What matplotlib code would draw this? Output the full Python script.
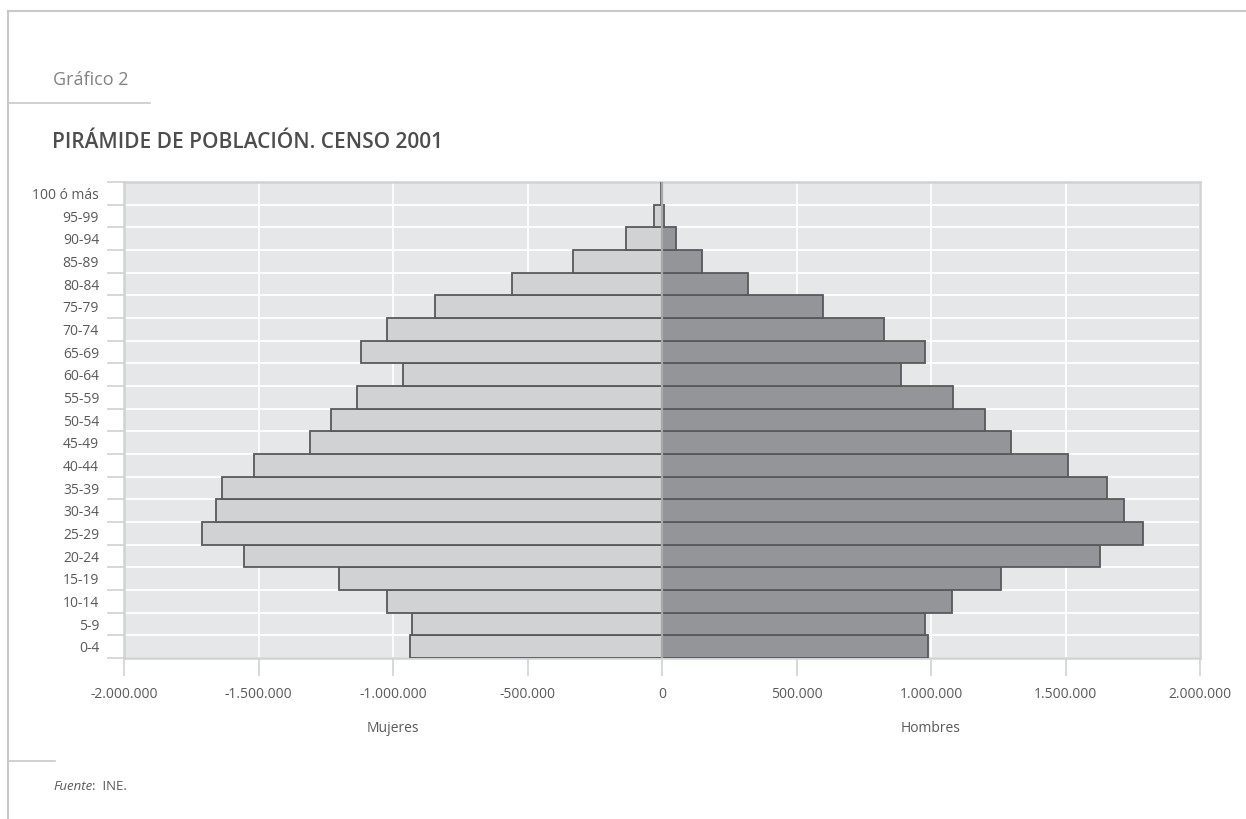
import matplotlib
matplotlib.use('Agg')
import matplotlib.pyplot as plt
from matplotlib.ticker import FuncFormatter, FixedLocator
from matplotlib.lines import Line2D

plt.rcParams['font.family'] = ['Open Sans', 'DejaVu Sans']

# Datos: grupos de edad (de menor a mayor) y población por sexo
grupos = ['0-4', '5-9', '10-14', '15-19', '20-24', '25-29', '30-34', '35-39',
          '40-44', '45-49', '50-54', '55-59', '60-64', '65-69', '70-74',
          '75-79', '80-84', '85-89', '90-94', '95-99', '100 ó más']
mujeres = [937000, 930000, 1021000, 1200000, 1555000, 1710000, 1658000, 1635000,
           1516000, 1310000, 1230000, 1133000, 963000, 1118000, 1022000,
           843000, 558000, 329000, 134000, 31000, 4000]
hombres = [988000, 978000, 1078000, 1261000, 1629000, 1787000, 1717000, 1653000,
           1510000, 1299000, 1202000, 1081000, 887000, 977000, 826000,
           600000, 321000, 150000, 52000, 9000, 1000]
ticks_x = [-2000000, -1500000, -1000000, -500000, 0, 500000, 1000000, 1500000, 2000000]

gris_texto = '#58595b'
gris_linea = '#d1d2d4'

fig = plt.figure(figsize=(12.46, 8.19), dpi=100)
ax = fig.add_axes([124 / 1246, 1 - 658 / 819, (1200 - 124) / 1246, (658 - 182) / 819])
ax.set_facecolor('#e6e7e9')

# Barras: mujeres a la izquierda (negativo), hombres a la derecha
y = list(range(len(grupos)))
ax.barh(y, [-m for m in mujeres], height=1.0, color='#d1d2d4',
        edgecolor='#58595b', linewidth=1.3, zorder=3)
ax.barh(y, hombres, height=1.0, color='#939598',
        edgecolor='#58595b', linewidth=1.3, zorder=3)
ax.axvline(0, color='#a7a9ac', linewidth=1.6, zorder=4)

ax.set_xlim(-2000000, 2000000)
ax.set_ylim(-0.5, len(grupos) - 0.5)

# Ejes
ax.set_xticks(ticks_x)
ax.xaxis.set_major_formatter(FuncFormatter(lambda v, p: f'{int(v):,}'.replace(',', '.')))
ax.set_yticks(y)
ax.set_yticklabels(grupos)
ax.yaxis.set_minor_locator(FixedLocator([i - 0.5 for i in range(len(grupos) + 1)]))
ax.tick_params(axis='y', which='major', length=0, pad=18, labelsize=10, labelcolor=gris_texto)
ax.tick_params(axis='y', which='minor', length=12, width=1.2, color=gris_linea)
ax.tick_params(axis='x', which='major', length=13, width=1.2, color=gris_linea,
               pad=8, labelsize=10, labelcolor=gris_texto)

ax.grid(True, axis='x', which='major', color='white', linewidth=1.3, zorder=1)
ax.grid(True, axis='y', which='minor', color='white', linewidth=1.3, zorder=1)
ax.set_axisbelow(True)
for s in ax.spines.values():
    s.set_color(gris_linea)
    s.set_linewidth(1.8)

# Etiquetas Mujeres / Hombres
ax.text(-1000000, -0.149, 'Mujeres', transform=ax.get_xaxis_transform(),
        ha='center', va='center', fontsize=10, color=gris_texto)
ax.text(1000000, -0.149, 'Hombres', transform=ax.get_xaxis_transform(),
        ha='center', va='center', fontsize=10, color=gris_texto)


# Marco y textos de la figura (coordenadas en píxeles -> fracción)
def px(x, yy):
    return x / 1246, 1 - yy / 819


fig.add_artist(Line2D([px(8, 0)[0], 1], [px(0, 11)[1]] * 2, color='#c8c9cb', linewidth=1.5))
fig.add_artist(Line2D([px(8, 0)[0]] * 2, [px(0, 11)[1], 0], color='#c8c9cb', linewidth=1.5))
fig.add_artist(Line2D([px(8, 0)[0], px(150, 0)[0]], [px(0, 103)[1]] * 2, color='#c8c9cb', linewidth=1.2))
fig.add_artist(Line2D([px(8, 0)[0], px(55, 0)[0]], [px(0, 761)[1]] * 2, color='#c8c9cb', linewidth=1.2))

fig.text(*px(53, 80), 'Gráfico 2', ha='left', va='center', fontsize=13, color='#808285')
fig.text(*px(52, 143), 'PIRÁMIDE DE POBLACIÓN. CENSO 2001', ha='left', va='center',
         fontsize=15, color='#4d4d4f', weight='semibold')
fuente = fig.text(*px(53, 786), 'Fuente', ha='left', va='center', fontsize=9.5,
                  color=gris_texto, style='italic')
fig.add_artist(plt.Annotation(':  INE.', xy=(1, 0.5), xycoords=fuente, va='center',
                              ha='left', fontsize=9.5, color=gris_texto))

fig.savefig('out.png', dpi=100, facecolor='white')
